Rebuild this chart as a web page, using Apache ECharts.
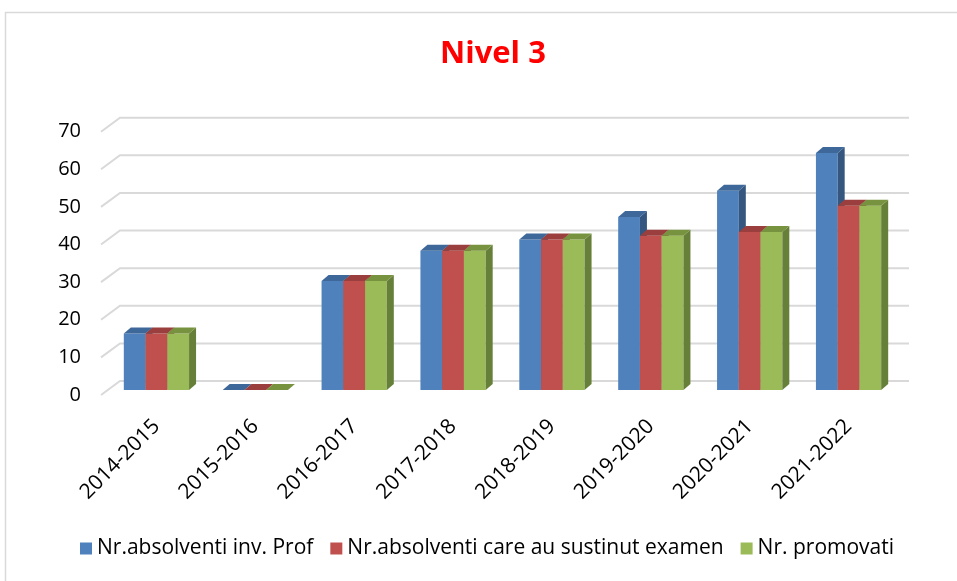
<!DOCTYPE html>
<html>
<head>
<meta charset="utf-8">
<script src="https://cdn.jsdelivr.net/npm/echarts@6/dist/echarts.min.js"></script>
<style>
  html, body { margin: 0; padding: 0; background: #fff; }
  #main { width: 957px; height: 581px; }
</style>
</head>
<body>
<div id="main"></div>
<script>
// date
var categories = ['2014-2015', '2015-2016', '2016-2017', '2017-2018', '2018-2019', '2019-2020', '2020-2021', '2021-2022'];
var absolventi = [15, 0, 29, 37, 40, 46, 53, 63];
var sustinut = [15, 0, 29, 37, 40, 41, 42, 49];
var promovati = [15, 0, 29, 37, 40, 41, 42, 49];
var yTicks = [0, 10, 20, 30, 40, 50, 60, 70];

var seriesNames = ['Nr.absolventi inv. Prof', 'Nr.absolventi care au sustinut examen', 'Nr. promovati'];
// culori: fata, lateral, sus
var colors = [
    ['#4f81bd', '#35577f', '#3e6899'],
    ['#c0504d', '#8c3836', '#9a3f3d'],
    ['#9bbb59', '#66803a', '#78933f']
];
var font = '"Open Sans", Lato, sans-serif';

var myChart = echarts.init(document.getElementById('main'));

function bar3d(k) {
    return function (params, api) {
        var i = api.value(0), v = api.value(1);
        var base = api.coord([i, 0]);
        var top = api.coord([i, v]);
        var band = api.size([1, 0])[0];
        var w = band * 0.22;
        var x0 = base[0] - 1.5 * w + k * w;
        var y0 = base[1] - 5, y1 = top[1] - 5;
        var dx = 7, dy = -6;
        return {
            type: 'group',
            children: [
                { type: 'rect', shape: { x: x0, y: y1, width: w, height: y0 - y1 }, style: { fill: colors[k][0] } },
                { type: 'polygon', shape: { points: [[x0 + w, y1], [x0 + w + dx, y1 + dy], [x0 + w + dx, y0 + dy], [x0 + w, y0]] }, style: { fill: colors[k][1] } },
                { type: 'polygon', shape: { points: [[x0, y1], [x0 + dx, y1 + dy], [x0 + w + dx, y1 + dy], [x0 + w, y1]] }, style: { fill: colors[k][2] } }
            ]
        };
    };
}

// liniile de grila (perete lateral + perete spate)
function walls(params, api) {
    var p = api.coord([0, api.value(1)]);
    var gx = params.coordSys.x;
    return {
        type: 'polyline',
        shape: { points: [[gx - 6, p[1]], [gx + 13, p[1] - 14], [gx + 802, p[1] - 14]] },
        style: { stroke: '#d9d9d9', lineWidth: 2, fill: null }
    };
}

var data = [absolventi, sustinut, promovati];
var series = [{
    name: 'grid',
    type: 'custom',
    silent: true,
    z: 1,
    renderItem: walls,
    data: yTicks.map(function (t) { return [0, t]; })
}];
data.forEach(function (arr, k) {
    series.push({
        name: seriesNames[k],
        type: 'custom',
        z: 2 + k,
        itemStyle: { color: colors[k][0] },
        renderItem: bar3d(k),
        data: arr.map(function (v, i) { return [i, v]; })
    });
});

var option = {
    animation: false,
    graphic: [{
        type: 'rect',
        shape: { x: 5.5, y: 12.5, width: 1000, height: 620 },
        style: { fill: null, stroke: '#d9d9d9', lineWidth: 1.5 }
    }],
    title: {
        text: 'Nivel 3',
        left: 440,
        top: 39,
        padding: 0,
        textStyle: { color: '#ff0000', fontSize: 31, fontWeight: 'bold', fontFamily: font }
    },
    legend: {
        data: seriesNames,
        left: 80,
        top: 538,
        padding: 0,
        icon: 'rect',
        itemWidth: 12,
        itemHeight: 12,
        itemGap: 17,
        textStyle: { color: '#000', fontSize: 21, fontFamily: font }
    },
    grid: { left: 107, right: 59, top: 131.7, bottom: 186 },
    xAxis: {
        type: 'category',
        data: categories,
        axisLine: { show: false },
        axisTick: { show: false },
        axisLabel: { rotate: 45, interval: 0, margin: 28, color: '#000', fontSize: 21, fontFamily: font }
    },
    yAxis: {
        type: 'value',
        min: 0,
        max: 70,
        interval: 10,
        splitLine: { show: false },
        axisLine: { show: false },
        axisTick: { show: false },
        axisLabel: { margin: 26, color: '#000', fontSize: 20, fontFamily: font }
    },
    series: series
};
myChart.setOption(option);
</script>
</body>
</html>
